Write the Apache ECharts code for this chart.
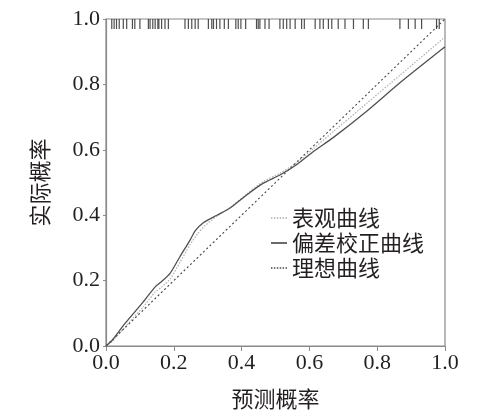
<!DOCTYPE html>
<html>
<head>
<meta charset="utf-8">
<script src="https://cdn.jsdelivr.net/npm/echarts@6/dist/echarts.min.js"></script>
<style>html,body{margin:0;padding:0;background:#fff;}#c{width:495px;height:419px;}</style>
</head>
<body>
<div id="c"></div>
<script>
var xTicks = [0, 0.2, 0.4, 0.6, 0.8, 1.0];
var seriesNames = ['表观曲线', '偏差校正曲线', '理想曲线'];
var apparentX = [0, 0.02, 0.056, 0.11, 0.145, 0.164, 0.189, 0.218, 0.248, 0.27, 0.29, 0.327, 0.366, 0.415, 0.464, 0.513, 0.563, 0.612, 0.671, 0.769, 0.867, 1.0];
var apparentY = [0, 0.015, 0.058, 0.12, 0.165, 0.18, 0.205, 0.255, 0.31, 0.343, 0.366, 0.397, 0.423, 0.465, 0.503, 0.528, 0.561, 0.604, 0.656, 0.742, 0.828, 0.945];
var correctedX = [0, 0.02, 0.056, 0.11, 0.145, 0.164, 0.189, 0.218, 0.248, 0.263, 0.287, 0.327, 0.366, 0.415, 0.464, 0.513, 0.563, 0.612, 0.671, 0.769, 0.867, 1.0];
var correctedY = [0, 0.02, 0.069, 0.135, 0.181, 0.197, 0.222, 0.273, 0.324, 0.352, 0.377, 0.400, 0.422, 0.462, 0.498, 0.523, 0.555, 0.595, 0.638, 0.718, 0.805, 0.915];
var idealX = [0, 1];
var idealY = [0, 1];
var rugX = [0.017, 0.024, 0.031, 0.039, 0.051, 0.061, 0.078, 0.085, 0.100, 0.125, 0.130, 0.138, 0.145, 0.153, 0.156, 0.164, 0.174, 0.184,
  0.233, 0.243, 0.253, 0.263, 0.272, 0.302, 0.312, 0.317, 0.326, 0.336, 0.349, 0.361, 0.383, 0.390, 0.398, 0.412,
  0.444, 0.449, 0.454, 0.469, 0.481, 0.513, 0.523, 0.533, 0.543, 0.558, 0.577, 0.585, 0.617, 0.631, 0.641, 0.656,
  0.666, 0.685, 0.705, 0.730, 0.759, 0.774, 0.867, 0.892, 0.912, 0.931, 0.975, 0.983];

function zip(a, b) { return a.map(function (v, i) { return [v, b[i]]; }); }

var chart = echarts.init(document.getElementById('c'), null, { renderer: 'canvas' });
var numFont = '"Liberation Serif", "Times New Roman", serif';
var cjkFont = '"Noto Sans CJK SC", sans-serif';
var txt = '#231f20';
var axisCol = '#8a8a8a';
var dotIcon = 'path://M0,0h1.4v1.4h-1.4zM2.8,0h1.4v1.4h-1.4zM5.6,0h1.4v1.4h-1.4zM8.4,0h1.4v1.4h-1.4zM11.2,0h1.4v1.4h-1.4zM14,0h1.4v1.4h-1.4z';
var solidIcon = 'path://M0,0h15.4v1.4h-15.4z';
chart.setOption({
  animation: false,
  backgroundColor: '#fff',
  grid: { left: 106, right: 50, top: 19, bottom: 73, show: true, borderColor: axisCol, borderWidth: 1.2, containLabel: false },
  legend: {
    data: [
      { name: seriesNames[0], icon: dotIcon, itemStyle: { color: '#aaaaaa' } },
      { name: seriesNames[1], icon: solidIcon, itemStyle: { color: '#333333' } },
      { name: seriesNames[2], icon: dotIcon, itemStyle: { color: '#444444' } }
    ],
    orient: 'vertical',
    left: 266,
    top: 202,
    itemWidth: 16,
    itemHeight: 1.5,
    itemGap: 3,
    textStyle: { fontFamily: cjkFont, fontSize: 22, color: txt, lineHeight: 22 }
  },
  xAxis: {
    type: 'value', min: 0, max: 1, interval: 0.2,
    name: '预测概率', nameLocation: 'middle', nameGap: 42,
    nameTextStyle: { fontFamily: cjkFont, fontSize: 22, color: txt },
    axisLine: { show: true, lineStyle: { color: axisCol, width: 1.2 } },
    axisTick: { show: true, length: 5, lineStyle: { color: axisCol } },
    axisLabel: { fontFamily: numFont, fontSize: 22, color: txt, margin: 6, formatter: function (v) { return v.toFixed(1); } },
    splitLine: { show: false }
  },
  yAxis: {
    type: 'value', min: 0, max: 1, interval: 0.2,
    name: '实际概率', nameLocation: 'middle', nameGap: 55, nameRotate: 90,
    nameTextStyle: { fontFamily: cjkFont, fontSize: 22, color: txt },
    axisLine: { show: true, lineStyle: { color: axisCol, width: 1.2 } },
    axisTick: { show: true, length: 3, lineStyle: { color: axisCol } },
    axisLabel: { fontFamily: numFont, fontSize: 22, color: txt, margin: 6, formatter: function (v) { return v.toFixed(1); } },
    splitLine: { show: false }
  },
  series: [
    {
      name: seriesNames[0], type: 'line', data: zip(apparentX, apparentY), smooth: 0.2,
      symbol: 'none', lineStyle: { color: '#b0b0b0', width: 1.2, type: [1.5, 1.5] }, itemStyle: { color: '#b0b0b0' }, z: 2
    },
    {
      name: seriesNames[1], type: 'line', data: zip(correctedX, correctedY), smooth: 0.2,
      symbol: 'none', lineStyle: { color: '#505050', width: 1.3, type: 'solid' }, itemStyle: { color: '#505050' }, z: 3
    },
    {
      name: seriesNames[2], type: 'line', data: zip(idealX, idealY),
      symbol: 'none', lineStyle: { color: '#444', width: 1.1, type: [2, 2.5] }, itemStyle: { color: '#444' }, z: 2
    },
    {
      name: 'rug', type: 'scatter', clip: false, silent: true,
      data: rugX.map(function (v) { return [v, 1]; }),
      symbol: 'rect', symbolSize: [1.2, 10], symbolOffset: [0, 5],
      itemStyle: { color: '#222' }, z: 4
    }
  ]
});
</script>
</body>
</html>
